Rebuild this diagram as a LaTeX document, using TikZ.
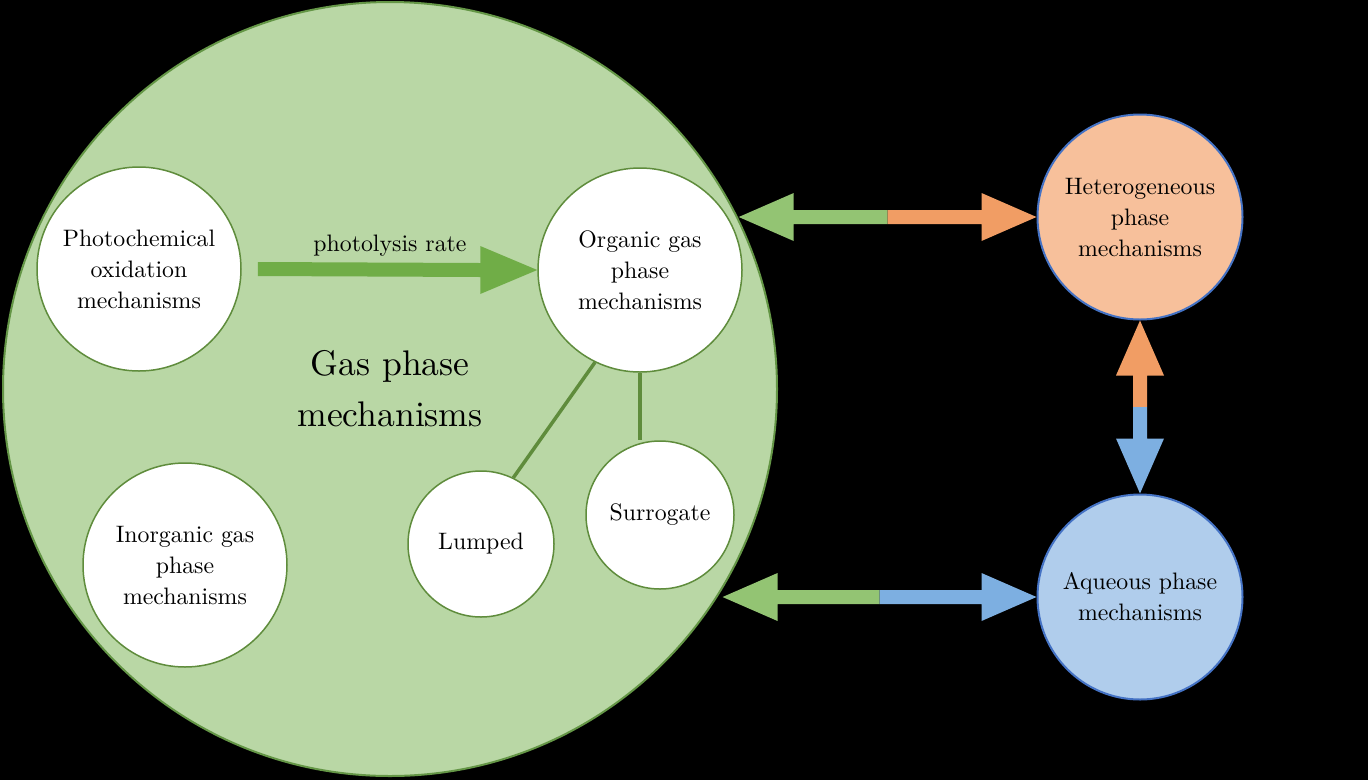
\documentclass[tikz,border=0pt]{standalone}
\usepackage{fontspec}
\setmainfont{lmroman10-regular.otf}
\usetikzlibrary{calc}
\definecolor{gasfill}{RGB}{185,215,165}
\definecolor{gasline}{RGB}{100,150,70}
\definecolor{subline}{RGB}{95,140,60}
\definecolor{photoarrow}{RGB}{112,173,71}
\definecolor{greenarrow}{RGB}{147,196,115}
\definecolor{orangearrow}{RGB}{241,157,100}
\definecolor{bluearrow}{RGB}{125,175,225}
\definecolor{hetfill}{RGB}{247,192,155}
\definecolor{aqfill}{RGB}{176,205,236}
\definecolor{blueline}{RGB}{68,114,196}
\newcommand{\dblarrow}[4]{%
  \coordinate (dm) at ($(#1)!0.5!(#2)$);
  \coordinate (dha) at ($(#1)!55pt!(#2)$);
  \coordinate (dhb) at ($(#2)!55pt!(#1)$);
  \fill[#3] (#1) -- ($(dha)!24pt!90:(#1)$) -- ($(dha)!7pt!90:(#1)$) -- ($(dm)!7pt!-90:(#2)$) -- ($(dm)!7pt!90:(#2)$) -- ($(dha)!7pt!-90:(#1)$) -- ($(dha)!24pt!-90:(#1)$) -- cycle;
  \fill[#4] (#2) -- ($(dhb)!24pt!90:(#2)$) -- ($(dhb)!7pt!90:(#2)$) -- ($(dm)!7pt!90:(#2)$) -- ($(dm)!7pt!-90:(#2)$) -- ($(dhb)!7pt!-90:(#2)$) -- ($(dhb)!24pt!-90:(#2)$) -- cycle;
}
\begin{document}
\begin{tikzpicture}[x=1pt,y={(0pt,-1pt)},
  every node/.style={font=\fontsize{23.8}{31}\selectfont, text=black, align=center},
  bubble/.style={circle, inner sep=0pt, fill=white, draw=subline, line width=1.5pt},
  gasbubble/.style={circle, inner sep=0pt, fill=gasfill, draw=gasline, line width=2pt},
  outerbubble/.style={circle, inner sep=0pt, draw=blueline, line width=2pt},
  link/.style={draw=subline, line width=3.5pt}]
\fill[black] (0,0) rectangle (1368,780);
% big gas phase circle
\node[gasbubble, minimum size=774pt, font=\fontsize{35.6}{51}\selectfont] (gas) at (390,389) {Gas phase\\mechanisms};
% inner circles
\node[bubble, minimum size=204pt] (photo) at (139,269) {Photochemical\\oxidation\\mechanisms};
\node[bubble, minimum size=204pt] (org) at (640,270) {Organic gas\\phase\\mechanisms};
\node[bubble, minimum size=204pt] (inorg) at (185,565) {Inorganic gas\\phase\\mechanisms};
\node[bubble, minimum size=146pt] (lump) at (481,544) {Lumped};
\node[bubble, minimum size=148pt] (surr) at (660,515) {Surrogate};
% outer circles
\node[outerbubble, fill=hetfill, minimum size=205pt] (het) at (1140,217) {Heterogeneous\\phase\\mechanisms};
\node[outerbubble, fill=aqfill, minimum size=205pt] (aq) at (1140,597) {Aqueous phase\\mechanisms};
% connectors inside
\draw[link] (org.-116) -- (lump.64.5);
\draw[link] (org.south) -- (org.south |- surr.north);
% photolysis arrow
\coordinate (pstart) at ($(photo.east)+(16,0)$);
\coordinate (phead) at ($(org.west)+(-57,0)$);
\fill[photoarrow] (pstart) ++(0,-7) -- ($(phead)+(0,-7)$) -- ($(phead)+(0,-24)$) -- (org.west) -- ($(phead)+(0,24)$) -- ($(phead)+(0,7)$) -- ($(pstart)+(0,7)$) -- cycle;
\node[anchor=base] (plabel) at (390,251) {photolysis rate};
% double arrows
\coordinate (gastop) at (het.west -| gas.26.3);
\coordinate (gasbot) at (aq.west -| gas.-31.5);
\dblarrow{gastop}{het.west}{greenarrow}{orangearrow}
\dblarrow{gasbot}{aq.west}{greenarrow}{bluearrow}
\dblarrow{het.south}{aq.north}{orangearrow}{bluearrow}
\end{tikzpicture}
\end{document}
